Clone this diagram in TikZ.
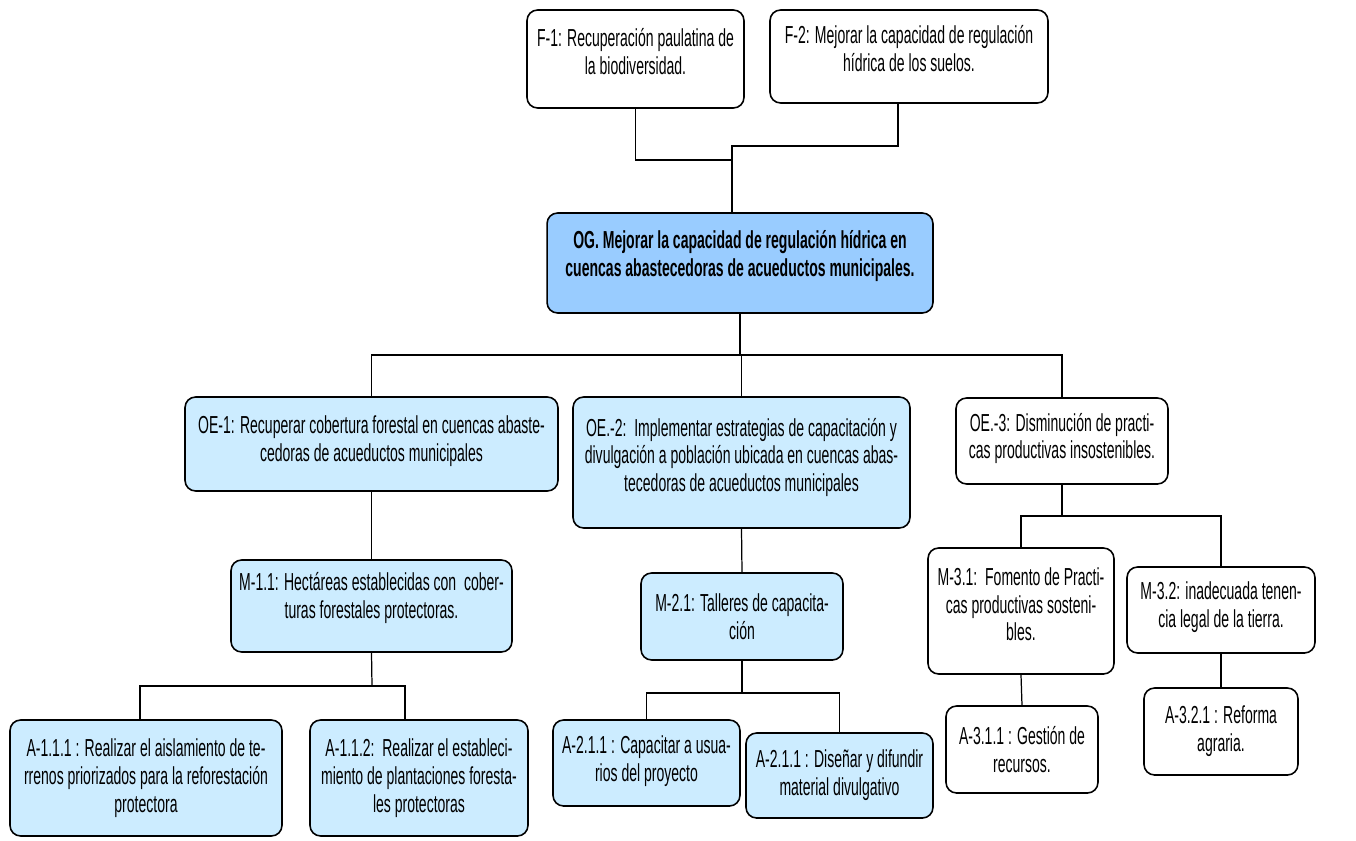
\documentclass[tikz,border=0pt]{standalone}
\usepackage{fontspec}
\setmainfont{Liberation Sans}[FakeStretch=0.57]
\usepackage{tikz}

\definecolor{ogblue}{RGB}{153,204,255}
\definecolor{oeblue}{RGB}{204,236,255}

\begin{document}
\begin{tikzpicture}[x=0.02cm,y=-0.02cm,font=\fontsize{14}{15.8}\selectfont]
  \tikzset{
    box/.style={draw,line width=0.9pt,rounded corners=6pt,align=center,inner sep=3pt},
    wbox/.style={box,fill=white},
    lbox/.style={box,fill=oeblue},
    gbox/.style={box,fill=ogblue,font=\fontsize{14}{15.8}\selectfont\bfseries},
    link/.style={line width=0.7pt}
  }
  \useasboundingbox (0,0) rectangle (1356,840);

  % Fines
  \node[wbox,minimum width=4.34cm,minimum height=1.96cm] (f1) at (635.5,59)
    {F-1: Recuperación paulatina de\\la biodiversidad.\\[-7pt]};
  \node[wbox,minimum width=5.56cm,minimum height=1.86cm] (f2) at (909,56.5)
    {F-2: Mejorar la capacidad de regulación\\hídrica de los suelos.\\[-7pt]};

  % Objetivo general
  \node[gbox,minimum width=7.72cm,minimum height=2.0cm] (og) at (740,263)
    {OG. Mejorar la capacidad de regulación hídrica en\\cuencas abastecedoras de acueductos municipales.\\[-5pt]};

  \coordinate (jf1) at (732,160);
  \coordinate (jf2) at (732,146);
  \draw[link] (f1.south) |- (jf1);
  \draw[link] ([xshift=-0.22cm]f2.south) |- (jf2) -- (jf2 |- og.north);

  % Objetivos especificos
  \node[lbox,minimum width=7.46cm,minimum height=1.88cm] (oe1) at (371.5,444)
    {OE-1: Recuperar cobertura forestal en cuencas abaste-\\cedoras de acueductos municipales\\[-10pt]};
  \node[lbox,minimum width=6.74cm,minimum height=2.62cm] (oe2) at (741.5,462.5)
    {OE.-2:\ \ Implementar estrategias de capacitación y\\divulgación a población ubicada en cuencas abas-\\tecedoras de acueductos municipales\\[-7pt]};
  \node[wbox,minimum width=4.24cm,minimum height=1.72cm] (oe3) at (1062,441)
    {OE.-3: Disminución de practi-\\cas productivas insostenibles.\\[-10pt]};

  \coordinate (busog) at (740,355);
  \draw[link] (og.south) -- (og.south |- busog);
  \draw[link] (oe1.north) |- (busog) -| (oe3.north);
  \draw[link] (busog) -- (busog -| oe2.north) -- (oe2.north);

  % Metas
  \node[lbox,minimum width=5.62cm,minimum height=1.84cm] (m11) at (371.5,606)
    {M-1.1: Hectáreas establecidas con\ \ cober-\\turas forestales protectoras.\\[-4pt]};
  \node[lbox,minimum width=4.04cm,minimum height=1.74cm] (m21) at (742,616.5)
    {M-2.1: Talleres de capacita-\\ción};
  \node[wbox,minimum width=3.72cm,minimum height=2.52cm] (m31) at (1021,611)
    {M-3.1:\ \ Fomento de Practi-\\cas productivas sosteni-\\bles.\\[-8pt]};
  \node[wbox,minimum width=3.76cm,minimum height=1.72cm] (m32) at (1221,610)
    {M-3.2: inadecuada tenen-\\cia legal de la tierra.\\[-10pt]};

  \draw[link] (oe1.south) -- (m11.north);
  \draw[link] (oe2.south) -- (m21.north);
  \coordinate (busoe3) at (1062,516);
  \draw[link] (oe3.south) -- (busoe3);
  \draw[link] (m31.north) |- (busoe3) -| (m32.north);

  % Actividades
  \node[lbox,minimum width=5.44cm,minimum height=2.32cm] (a111) at (146,778)
    {A-1.1.1 : Realizar el aislamiento de te-\\rrenos priorizados para la reforestación\\protectora};
  \node[lbox,minimum width=4.36cm,minimum height=2.32cm] (a112) at (419,778)
    {A-1.1.2:\ \ Realizar el estableci-\\miento de plantaciones foresta-\\les protectoras};
  \node[lbox,minimum width=3.74cm,minimum height=1.72cm] (a211) at (646.5,763)
    {A-2.1.1 : Capacitar a usua-\\rios del proyecto\\[-11pt]};
  \node[lbox,minimum width=3.74cm,minimum height=1.70cm] (a212) at (839.5,775.5)
    {A-2.1.1 : Diseñar y difundir\\material divulgativo};
  \node[wbox,minimum width=3.04cm,minimum height=1.74cm] (a311) at (1022,749.5)
    {A-3.1.1 : Gestión de\\recursos.};
  \node[wbox,minimum width=3.08cm,minimum height=1.74cm] (a321) at (1221,731.5)
    {A-3.2.1 : Reforma\\agraria.};

  \coordinate (busm11) at (372,686);
  \draw[link] (m11.south) -- (busm11);
  \draw[link] ([xshift=-0.12cm]a111.north) |- (busm11) -| ([xshift=-0.28cm]a112.north);
  \coordinate (busm21) at (742,693);
  \draw[link] (m21.south) -- (busm21);
  \draw[link] (a211.north) |- (busm21) -| (a212.north);
  \draw[link] (m31.south) -- (a311.north);
  \draw[link] (m32.south) -- (a321.north);
\end{tikzpicture}
\end{document}
